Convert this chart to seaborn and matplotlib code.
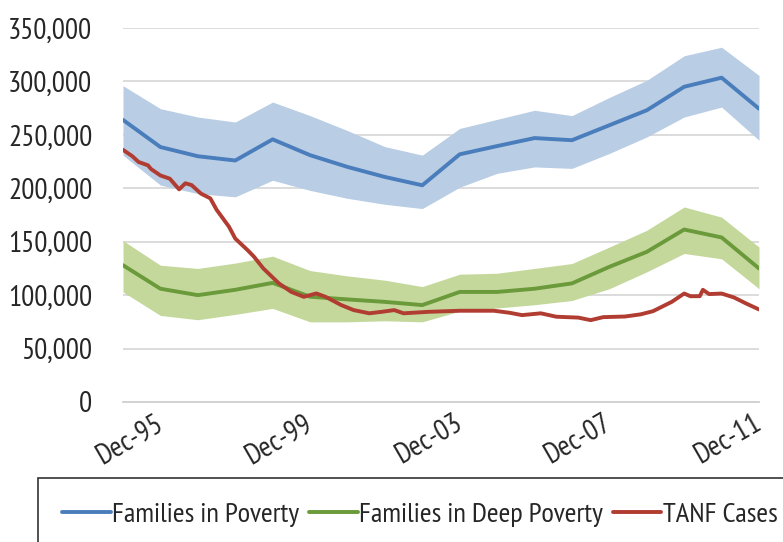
import matplotlib
matplotlib.use("Agg")
import matplotlib.pyplot as plt
import numpy as np
import seaborn as sns

# annual points, Dec-94 .. Dec-11 (thousands of families)
years = list(range(1994, 2012))
poverty = [264, 238.6, 230, 226, 245.8, 231, 220, 210.6, 202.8, 231.8, 239.5, 247, 245, 259, 273, 295, 303.5, 274.5]
poverty_hi = [296, 274.5, 266.7, 262, 280.7, 268, 254, 239, 231, 256, 264.5, 273, 268, 285, 301, 324, 332, 305.6]
poverty_lo = [231, 203, 195, 192, 207.5, 198, 190.6, 185, 181, 201, 214, 220, 218.6, 232.6, 248, 266.7, 276, 245]
deep = [128, 106, 100, 105, 111.5, 98.5, 96, 93.7, 90.7, 103, 103, 106, 111, 126.5, 140.5, 161.4, 154, 125]
deep_hi = [151, 128, 125, 130, 136.5, 123, 118, 114, 108, 119.6, 120.5, 125, 129.6, 145, 160.7, 182.5, 173, 145]
deep_lo = [103, 81, 77, 82, 87.6, 75, 75, 76, 75, 85, 88, 91, 95, 106, 121.8, 139, 134, 106]

# TANF cases, monthly index from Dec-94 (thousands)
tanf_month = [0, 3, 5, 8, 9, 12, 15, 18, 20, 22, 25, 28, 30, 34, 36, 40, 42, 45, 50, 54, 58, 62, 65,
              70, 74, 79, 83, 87, 90, 98, 108, 119, 124, 128, 134, 139, 146, 150, 154, 161, 166, 170,
              176, 180, 182, 185, 186, 188, 192, 196, 200, 204]
tanf = [236, 230, 224.6, 221.5, 218, 212, 209, 199, 204.7, 203, 195, 190.6, 180, 164, 153, 142, 136, 125,
        111, 103, 98.4, 101.6, 98.4, 90.7, 86, 83, 84.4, 86, 83, 84.4, 85.4, 85.4, 83.5, 81.3, 83, 79.8,
        79, 76.6, 79.4, 80, 82, 85, 93.7, 101.5, 99, 99, 105, 101, 101.5, 97.8, 92, 86.6]

x_labels = ["Dec-95", "Dec-99", "Dec-03", "Dec-07", "Dec-11"]
label_years = [1995, 1999, 2003, 2007, 2011]

sns.set_style("white")
plt.rcParams['font.family'] = ['PT Sans Narrow', 'DejaVu Sans']

fig = plt.figure(figsize=(7.83, 5.42), dpi=100)
ax = fig.add_axes([123 / 783, 1 - 402 / 542, (759 - 123) / 783, (402 - 28) / 542])

months = [(y - 1994) * 12 for y in years]
k = 1000

ax.fill_between(months, np.array(poverty_lo) * k, np.array(poverty_hi) * k, color='#b9cde5', lw=0, zorder=1)
ax.fill_between(months, np.array(deep_lo) * k, np.array(deep_hi) * k, color='#c4d89c', lw=0, zorder=1)

sns.lineplot(x=months, y=np.array(poverty) * k, ax=ax, color='#4a7dbb', lw=2.8,
             label='Families in Poverty', zorder=3)
sns.lineplot(x=months, y=np.array(deep) * k, ax=ax, color='#6a9a3a', lw=2.8,
             label='Families in Deep Poverty', zorder=3)
sns.lineplot(x=tanf_month, y=np.array(tanf) * k, ax=ax, color='#b13c31', lw=2.8,
             label='TANF Cases', zorder=4)

ax.set_xlim(0, 204)
ax.set_ylim(0, 350000)
ax.set_yticks(range(0, 350001, 50000))
ax.set_yticklabels([f"{v:,}" for v in range(0, 350001, 50000)], fontsize=21)
ax.tick_params(axis='y', length=0, pad=22)

ax.set_xticks(range(0, 205, 12))
lab_map = {(y - 1994) * 12: t for y, t in zip(label_years, x_labels)}
ax.set_xticklabels([lab_map.get(m, "") for m in range(0, 205, 12)], fontsize=21,
                   rotation=30, ha='right', va='center', rotation_mode='anchor')
ax.tick_params(axis='x', direction='in', length=7, width=1.2, color='#d0d0d0', pad=14)

ax.yaxis.grid(True, color='#d9d9d9', lw=1.3)
ax.xaxis.grid(False)
for s in ['left', 'top', 'right']:
    ax.spines[s].set_visible(False)
ax.spines['bottom'].set_color('#d0d0d0')
ax.spines['bottom'].set_linewidth(1.3)
ax.set_xlabel('')
ax.set_ylabel('')

ax.get_legend().remove()
leg = fig.legend(loc='upper left', bbox_to_anchor=(38 / 783, 1 - 478 / 542), ncol=3,
                 fontsize=20.5, frameon=True, fancybox=False, edgecolor='black',
                 handlelength=1.7, handletextpad=0.05, columnspacing=0.35,
                 borderpad=0.85, borderaxespad=0)
leg.get_frame().set_linewidth(1.2)

fig.savefig('out.png', dpi=100)
